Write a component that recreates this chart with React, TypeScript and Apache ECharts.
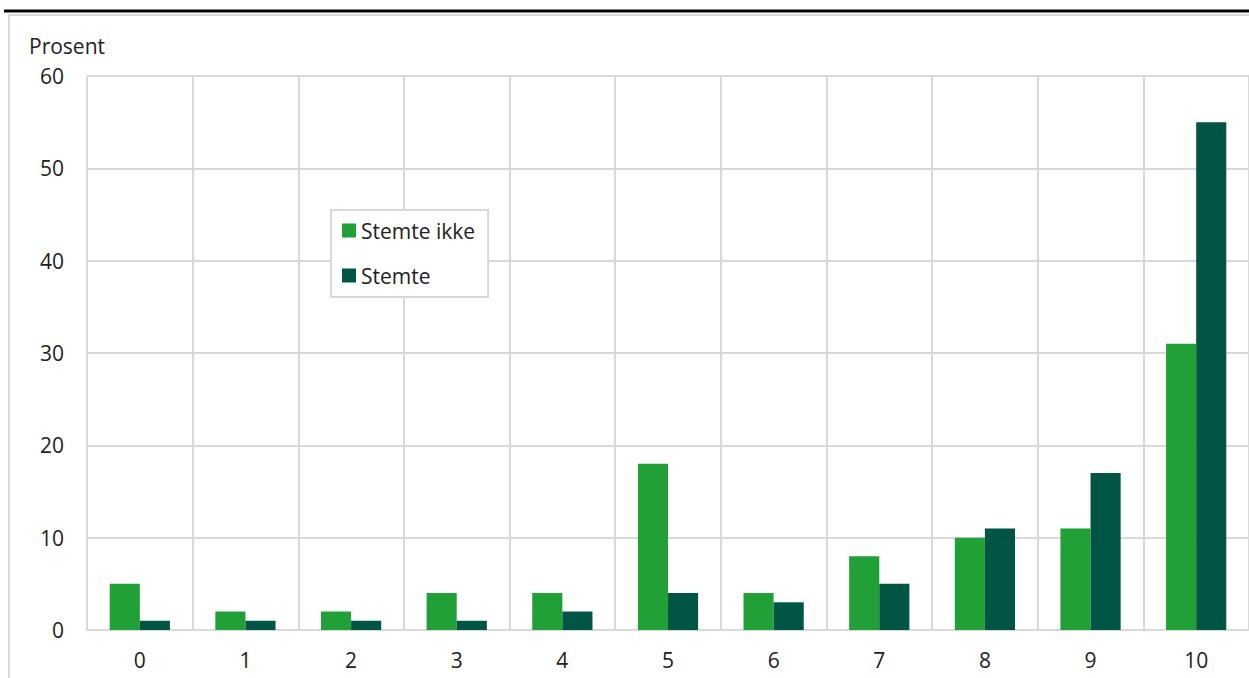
import React, { useEffect, useRef } from "react";
import * as echarts from "echarts";

const categories = ["0", "1", "2", "3", "4", "5", "6", "7", "8", "9", "10"];
const stemteIkke = [5, 2, 2, 4, 4, 18, 4, 8, 10, 11, 31];
const stemte = [1, 1, 1, 1, 2, 4, 3, 5, 11, 17, 55];
const seriesNames = ["Stemte ikke", "Stemte"];
const yTicks = { min: 0, max: 60, interval: 10 };

const GRID = "#d9d9d9";
const TEXT = "#222222";
const FONT = "'Open Sans', 'Noto Sans', sans-serif";
const FS = 21;

export default function App() {
  const ref = useRef<HTMLDivElement>(null);
  useEffect(() => {
    if (!ref.current) return;
    const chart = echarts.init(ref.current, null, { renderer: "svg" });
    chart.setOption({
      animation: false,
      backgroundColor: "#ffffff",
      textStyle: { fontFamily: FONT },
      graphic: [
        {
          type: "rect",
          shape: { x: 9, y: 15, width: 1400, height: 800 },
          style: { fill: "none", stroke: GRID, lineWidth: 2 },
          z: 0,
        },
        {
          type: "line",
          shape: { x1: 4, y1: 11, x2: 1260, y2: 11 },
          style: { stroke: "#000000", lineWidth: 3 },
        },
        {
          type: "text",
          x: 29,
          y: 46,
          style: {
            text: "Prosent",
            fill: TEXT,
            font: `${FS}px ${FONT}`,
            textVerticalAlign: "middle",
          },
        },
      ],
      legend: {
        show: true,
        orient: "vertical",
        left: 331,
        top: 210,
        data: seriesNames,
        backgroundColor: "#ffffff",
        borderColor: GRID,
        borderWidth: 2,
        padding: [10, 13, 11, 11],
        itemWidth: 14,
        itemHeight: 14,
        itemGap: 24,
        icon: "rect",
        textStyle: { fontSize: FS, color: TEXT, fontFamily: FONT },
        z: 10,
      },
      grid: { left: 87, top: 76, right: -4, bottom: 48, containLabel: false },
      xAxis: {
        type: "category",
        data: categories,
        axisTick: { show: false },
        axisLine: { show: true, lineStyle: { color: GRID, width: 2 } },
        splitLine: { show: true, lineStyle: { color: GRID, width: 2 } },
        axisLabel: { fontSize: FS, color: TEXT, margin: 19, fontFamily: FONT },
      },
      yAxis: {
        type: "value",
        min: yTicks.min,
        max: yTicks.max,
        interval: yTicks.interval,
        axisLine: { show: false },
        axisTick: { show: false },
        splitLine: { show: true, lineStyle: { color: GRID, width: 2 } },
        axisLabel: { fontSize: FS, color: TEXT, margin: 23, fontFamily: FONT },
      },
      series: [
        {
          name: seriesNames[0],
          type: "bar",
          data: stemteIkke,
          itemStyle: { color: "#21a038" },
          barGap: "0%",
          barCategoryGap: "43%",
        },
        {
          name: seriesNames[1],
          type: "bar",
          data: stemte,
          itemStyle: { color: "#005545" },
          barGap: "0%",
          barCategoryGap: "43%",
        },
      ],
    });
    return () => chart.dispose();
  }, []);
  return (
    <div
      ref={ref}
      style={{ position: "absolute", left: 0, top: 0, width: 1249, height: 678 }}
    />
  );
}
